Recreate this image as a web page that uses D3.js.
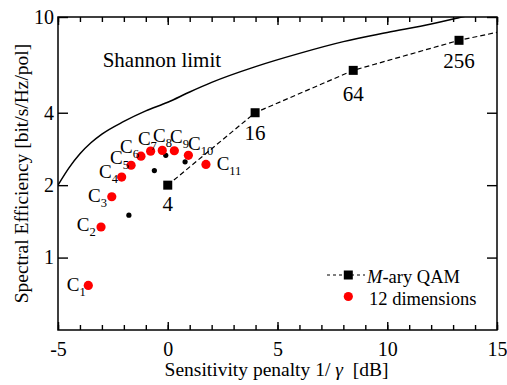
<!DOCTYPE html>
<html>
<head>
<meta charset="utf-8">
<script src="https://cdn.jsdelivr.net/npm/d3@7"></script>
<style>
  body { margin: 0; background: #fff; }
  svg { display: block; font-family: "Liberation Serif", "Times New Roman", serif; }
  text { fill: #000; }
  .axis path, .axis line { stroke: #000; stroke-width: 1.4; }
</style>
</head>
<body>
<div id="chart"></div>
<script>
/* DATA */
const qamOrders = ["4", "16", "64", "256", "1024"];
const qamPenalty = [0, 3.98, 8.45, 13.27, 18.34];
const qamSE = [2, 4, 6, 8, 10];

const codeNames = ["1", "2", "3", "4", "5", "6", "7", "8", "9", "10", "11"];
const codePenalty = [-3.62, -3.04, -2.55, -2.1, -1.67, -1.22, -0.78, -0.25, 0.3, 0.94, 1.74];
const codeSE = [0.766, 1.34, 1.79, 2.16, 2.42, 2.64, 2.77, 2.79, 2.78, 2.66, 2.44];

const refPenalty = [-1.77, -0.61, -0.09, 0.79];
const refSE = [1.5, 2.3, 2.66, 2.5];

const shannonPenalty = [-5, -4.5, -4, -3.5, -3, -2, -1, 0, 1, 2, 4, 6, 8, 10, 12, 13.3, 14];
const shannonSE = [2.0, 2.36, 2.7, 3.0, 3.26, 3.68, 4.07, 4.42, 4.88, 5.35, 6.22, 7.06, 7.9, 8.62, 9.35, 9.95, 10.3];

const xTicks = [-5, 0, 5, 10, 15];
const yTicks = [1, 2, 4, 10];

/* LAYOUT */
const W = 507, H = 385;
const margin = { top: 17, right: 10, bottom: 55, left: 58 };
const width = W - margin.left - margin.right;
const height = H - margin.top - margin.bottom;

// label placement (pixels, relative to each mark)
const codeLabelOffsets = [
  [-21.6, 5.7], [-24.3, 4.4], [-23.7, 5], [-22.7, 0.7], [-21, -1.7], [-21, -2.7],
  [-12.7, -6], [-9.3, -8.3], [-4.3, -7.7], [-0.3, -5], [10.7, 5.7]
];
const qamLabelDy = [26, 27, 31, 28];

/* SCALES */
const x = d3.scaleLinear().domain([-5, 15]).range([0, width]);
const y = d3.scaleLog().domain([0.5, 10]).range([height, 0]);

const svg = d3.select("#chart").append("svg")
  .attr("width", W).attr("height", H);

svg.append("defs").append("clipPath").attr("id", "plot-clip")
  .append("rect").attr("width", width).attr("height", height);

const g = svg.append("g").attr("transform", `translate(${margin.left},${margin.top})`);

/* AXES */
const minorX = d3.range(-5, 16, 1);

// strip d3's default sans-serif font and the domain path
function plain(a) {
  a.attr("font-family", null).attr("font-size", null);
  a.select(".domain").remove();
}

g.append("g").attr("class", "axis")
  .attr("transform", `translate(0,${height})`)
  .call(d3.axisBottom(x).tickValues(minorX).tickSize(-5).tickFormat(""))
  .call(plain);
g.append("g").attr("class", "axis")
  .attr("transform", `translate(0,${height})`)
  .call(d3.axisBottom(x).tickValues(xTicks).tickSize(-8).tickPadding(12).tickFormat((d) => String(d)))
  .call(plain)
  .selectAll("text").attr("font-size", 20);

g.append("g").attr("class", "axis")
  .call(d3.axisTop(x).tickValues(minorX).tickSize(-5).tickFormat(""))
  .call(plain);
g.append("g").attr("class", "axis")
  .call(d3.axisTop(x).tickValues(xTicks).tickSize(-8).tickFormat(""))
  .call(plain);

g.append("g").attr("class", "axis")
  .call(d3.axisLeft(y).tickValues(yTicks).tickSize(-10).tickPadding(4).tickFormat((d) => String(d)))
  .call(plain)
  .selectAll("text").attr("font-size", 20);

g.append("g").attr("class", "axis")
  .attr("transform", `translate(${width},0)`)
  .call(d3.axisRight(y).tickValues(yTicks).tickSize(-10).tickFormat(""))
  .call(plain);

// frame
g.append("rect")
  .attr("width", width).attr("height", height)
  .attr("fill", "none").attr("stroke", "#000").attr("stroke-width", 1.5);

// axis titles
svg.append("text")
  .attr("x", 276.5).attr("y", 376)
  .attr("text-anchor", "middle").attr("font-size", 19.5)
  .attr("xml:space", "preserve")
  .html('Sensitivity penalty 1/ <tspan font-style="italic">γ</tspan>  [dB]');

svg.append("text")
  .attr("transform", `translate(28,${(42 + 305) / 2}) rotate(-90)`)
  .attr("text-anchor", "middle").attr("font-size", 19.5)
  .text("Spectral Efficiency [bit/s/Hz/pol]");

/* MARKS */
const plot = g.append("g").attr("clip-path", "url(#plot-clip)");

plot.append("path")
  .datum(d3.zip(shannonPenalty, shannonSE))
  .attr("d", d3.line().x((d) => x(d[0])).y((d) => y(d[1])).curve(d3.curveMonotoneX))
  .attr("fill", "none").attr("stroke", "#000").attr("stroke-width", 1.5);

plot.append("path")
  .datum(d3.zip(qamPenalty, qamSE))
  .attr("d", d3.line().x((d) => x(d[0])).y((d) => y(d[1])))
  .attr("fill", "none").attr("stroke", "#000").attr("stroke-width", 1.2)
  .attr("stroke-dasharray", "5,3");

const qam = d3.zip(qamPenalty, qamSE, qamOrders).filter((d) => d[0] <= 15 && d[1] < 10);

plot.selectAll(".qam").data(qam).enter().append("rect")
  .attr("x", (d) => x(d[0]) - 4.5).attr("y", (d) => y(d[1]) - 4.5)
  .attr("width", 9).attr("height", 9).attr("fill", "#000");

g.selectAll(".qam-label").data(qam).enter().append("text")
  .attr("x", (d) => x(d[0]))
  .attr("y", (d, i) => y(d[1]) + qamLabelDy[i])
  .attr("text-anchor", "middle").attr("font-size", 21)
  .text((d) => d[2]);

plot.selectAll(".ref").data(d3.zip(refPenalty, refSE)).enter().append("circle")
  .attr("cx", (d) => x(d[0])).attr("cy", (d) => y(d[1]))
  .attr("r", 2.6).attr("fill", "#000");

const codes = d3.zip(codePenalty, codeSE, codeNames);

plot.selectAll(".code").data(codes).enter().append("circle")
  .attr("cx", (d) => x(d[0])).attr("cy", (d) => y(d[1]))
  .attr("r", 4.6).attr("fill", "#ff0000");

const codeLabels = g.selectAll(".code-label").data(codes).enter().append("text")
  .attr("x", (d, i) => x(d[0]) + codeLabelOffsets[i][0])
  .attr("y", (d, i) => y(d[1]) + codeLabelOffsets[i][1])
  .attr("font-size", 19);
codeLabels.append("tspan").text("C");
codeLabels.append("tspan").attr("font-size", 12.5).attr("dy", 5).text((d) => d[2]);

// Shannon label
g.append("text")
  .attr("x", 102.7 - margin.left).attr("y", 66.7 - margin.top)
  .attr("font-size", 21).text("Shannon limit");

/* LEGEND */
const legend = svg.append("g");
legend.append("line")
  .attr("x1", 327).attr("x2", 365).attr("y1", 275).attr("y2", 275)
  .attr("stroke", "#000").attr("stroke-width", 1.2).attr("stroke-dasharray", "3,3");
legend.append("rect")
  .attr("x", 343.8).attr("y", 270.5).attr("width", 9).attr("height", 9).attr("fill", "#000");
legend.append("text")
  .attr("x", 367).attr("y", 282.7).attr("font-size", 18.5)
  .html('<tspan font-style="italic">M</tspan>-ary QAM');
legend.append("circle")
  .attr("cx", 348.3).attr("cy", 296.5).attr("r", 4.6).attr("fill", "#ff0000");
legend.append("text")
  .attr("x", 369).attr("y", 305).attr("font-size", 18.5).text("12 dimensions");
</script>
</body>
</html>
